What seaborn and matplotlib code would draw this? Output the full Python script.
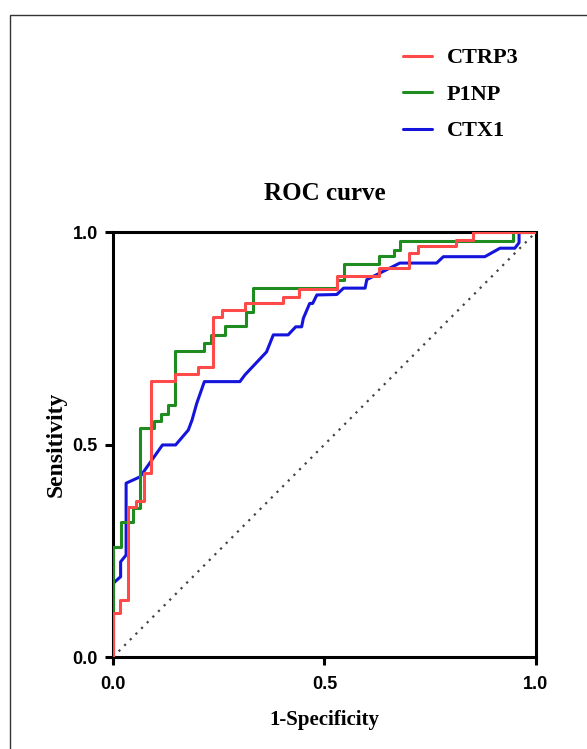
import pandas as pd
import numpy as np
import matplotlib.pyplot as plt
import seaborn as sns
from matplotlib.lines import Line2D
from matplotlib.patches import Rectangle

# ROC corner points (1-Specificity, Sensitivity)
ctrp3_fpr = [0, 0, 0.017, 0.035, 0.054, 0.074, 0.091, 0.147, 0.202, 0.237, 0.258, 0.312,
             0.403, 0.44, 0.53, 0.63, 0.70, 0.72, 0.81, 0.85, 1.0]
ctrp3_tpr = [0, 0.103, 0.134, 0.352, 0.368, 0.432, 0.65, 0.667, 0.683, 0.80, 0.817, 0.833,
             0.848, 0.866, 0.896, 0.915, 0.95, 0.966, 0.981, 1.0, 1.0]

p1np_fpr = [0, 0, 0.018, 0.048, 0.065, 0.098, 0.113, 0.131, 0.147, 0.216, 0.232, 0.265,
            0.314, 0.332, 0.53, 0.546, 0.63, 0.664, 0.678, 0.945, 1.0]
p1np_tpr = [0, 0.26, 0.318, 0.35, 0.538, 0.556, 0.573, 0.593, 0.721, 0.738, 0.758, 0.778,
            0.813, 0.868, 0.888, 0.925, 0.943, 0.958, 0.98, 1.0, 1.0]

# CTX1 has tied values, so it is drawn as a plain polyline
ctx1_fpr = [0, 0, 0.018, 0.018, 0.031, 0.031, 0.064, 0.117, 0.148, 0.178, 0.187, 0.198,
            0.216, 0.30, 0.312, 0.363, 0.379, 0.414, 0.432, 0.446, 0.45, 0.465, 0.472,
            0.482, 0.529, 0.545, 0.596, 0.60, 0.678, 0.765, 0.781, 0.879, 0.915, 0.95,
            0.96, 0.96, 1.0]
ctx1_tpr = [0, 0.173, 0.189, 0.224, 0.24, 0.409, 0.424, 0.499, 0.499, 0.534, 0.558, 0.597,
            0.648, 0.648, 0.664, 0.718, 0.758, 0.758, 0.777, 0.777, 0.797, 0.832, 0.832,
            0.852, 0.853, 0.868, 0.868, 0.888, 0.927, 0.927, 0.942, 0.942, 0.962, 0.962,
            0.975, 1.0, 1.0]

labels = ['CTRP3', 'P1NP', 'CTX1']
colors = {'CTRP3': '#FF4A4A', 'P1NP': '#1E8C1E', 'CTX1': '#1414DC'}

sns.set_style('ticks')
serif = ['Liberation Serif', 'DejaVu Serif']
sans = ['Liberation Sans', 'DejaVu Sans']
plt.rcParams['font.family'] = sans
plt.rcParams['text.color'] = 'black'
plt.rcParams['axes.labelcolor'] = 'black'

fig = plt.figure(figsize=(5.87, 7.49), dpi=100)
ax = fig.add_axes([0.1925, 0.1228, 0.7206, 0.5674])

# reference line
ax.plot([0, 1], [0, 1], color='#444444', lw=1.6, linestyle=(0, (1, 2.6)), zorder=1)

sns.lineplot(x=ctx1_fpr, y=ctx1_tpr, ax=ax, color=colors['CTX1'], lw=2.2,
             estimator=None, sort=False, zorder=2)
sns.lineplot(x=p1np_fpr, y=p1np_tpr, ax=ax, color=colors['P1NP'], lw=2.2,
             estimator=None, sort=False, drawstyle='steps-post', zorder=3)
sns.lineplot(x=ctrp3_fpr, y=ctrp3_tpr, ax=ax, color=colors['CTRP3'], lw=2.2,
             estimator=None, sort=False, drawstyle='steps-post', zorder=4)

ax.set_xlim(0, 1)
ax.set_ylim(0, 1)
ax.set_xticks([0, 0.5, 1.0])
ax.set_yticks([0, 0.5, 1.0])
ax.set_xticklabels(['0.0', '0.5', '1.0'])
ax.set_yticklabels(['0.0', '0.5', '1.0'])
for lab in ax.get_xticklabels() + ax.get_yticklabels():
    lab.set_fontweight('bold')
    lab.set_fontsize(13)
    lab.set_color('black')
ax.tick_params(axis='both', length=6, width=2.2, color='black', labelcolor='black')
ax.tick_params(axis='x', pad=8)
ax.tick_params(axis='y', pad=5)

for side in ['left', 'bottom', 'top', 'right']:
    ax.spines[side].set_visible(True)
    ax.spines[side].set_linewidth(2.2)
    ax.spines[side].set_color('black')

ax.set_xlabel('1-Specificity', family=serif, fontweight='bold', fontsize=15,
              labelpad=12, color='black')
ax.set_ylabel('Sensitivity', family=serif, fontweight='bold', fontsize=17,
              labelpad=4, color='black')
ax.set_title('ROC curve', family=serif, fontweight='bold', fontsize=18, pad=23,
             color='black')

handles = [Line2D([0], [0], color=colors[k], lw=2.2) for k in labels]
fig.legend(handles, labels, loc='upper left', bbox_to_anchor=(0.667, 0.951),
           frameon=False, borderpad=0, handlelength=1.3, handletextpad=0.7,
           labelspacing=0.72, prop={'family': serif, 'weight': 'bold', 'size': 16})

# outer frame of the original panel
fig.add_artist(Rectangle((10 / 587, -0.1), 1.2, 1.1 - 15 / 749, fill=False,
                         lw=1.0, ec='#333333', transform=fig.transFigure))

fig.savefig('out.png', dpi=100)
